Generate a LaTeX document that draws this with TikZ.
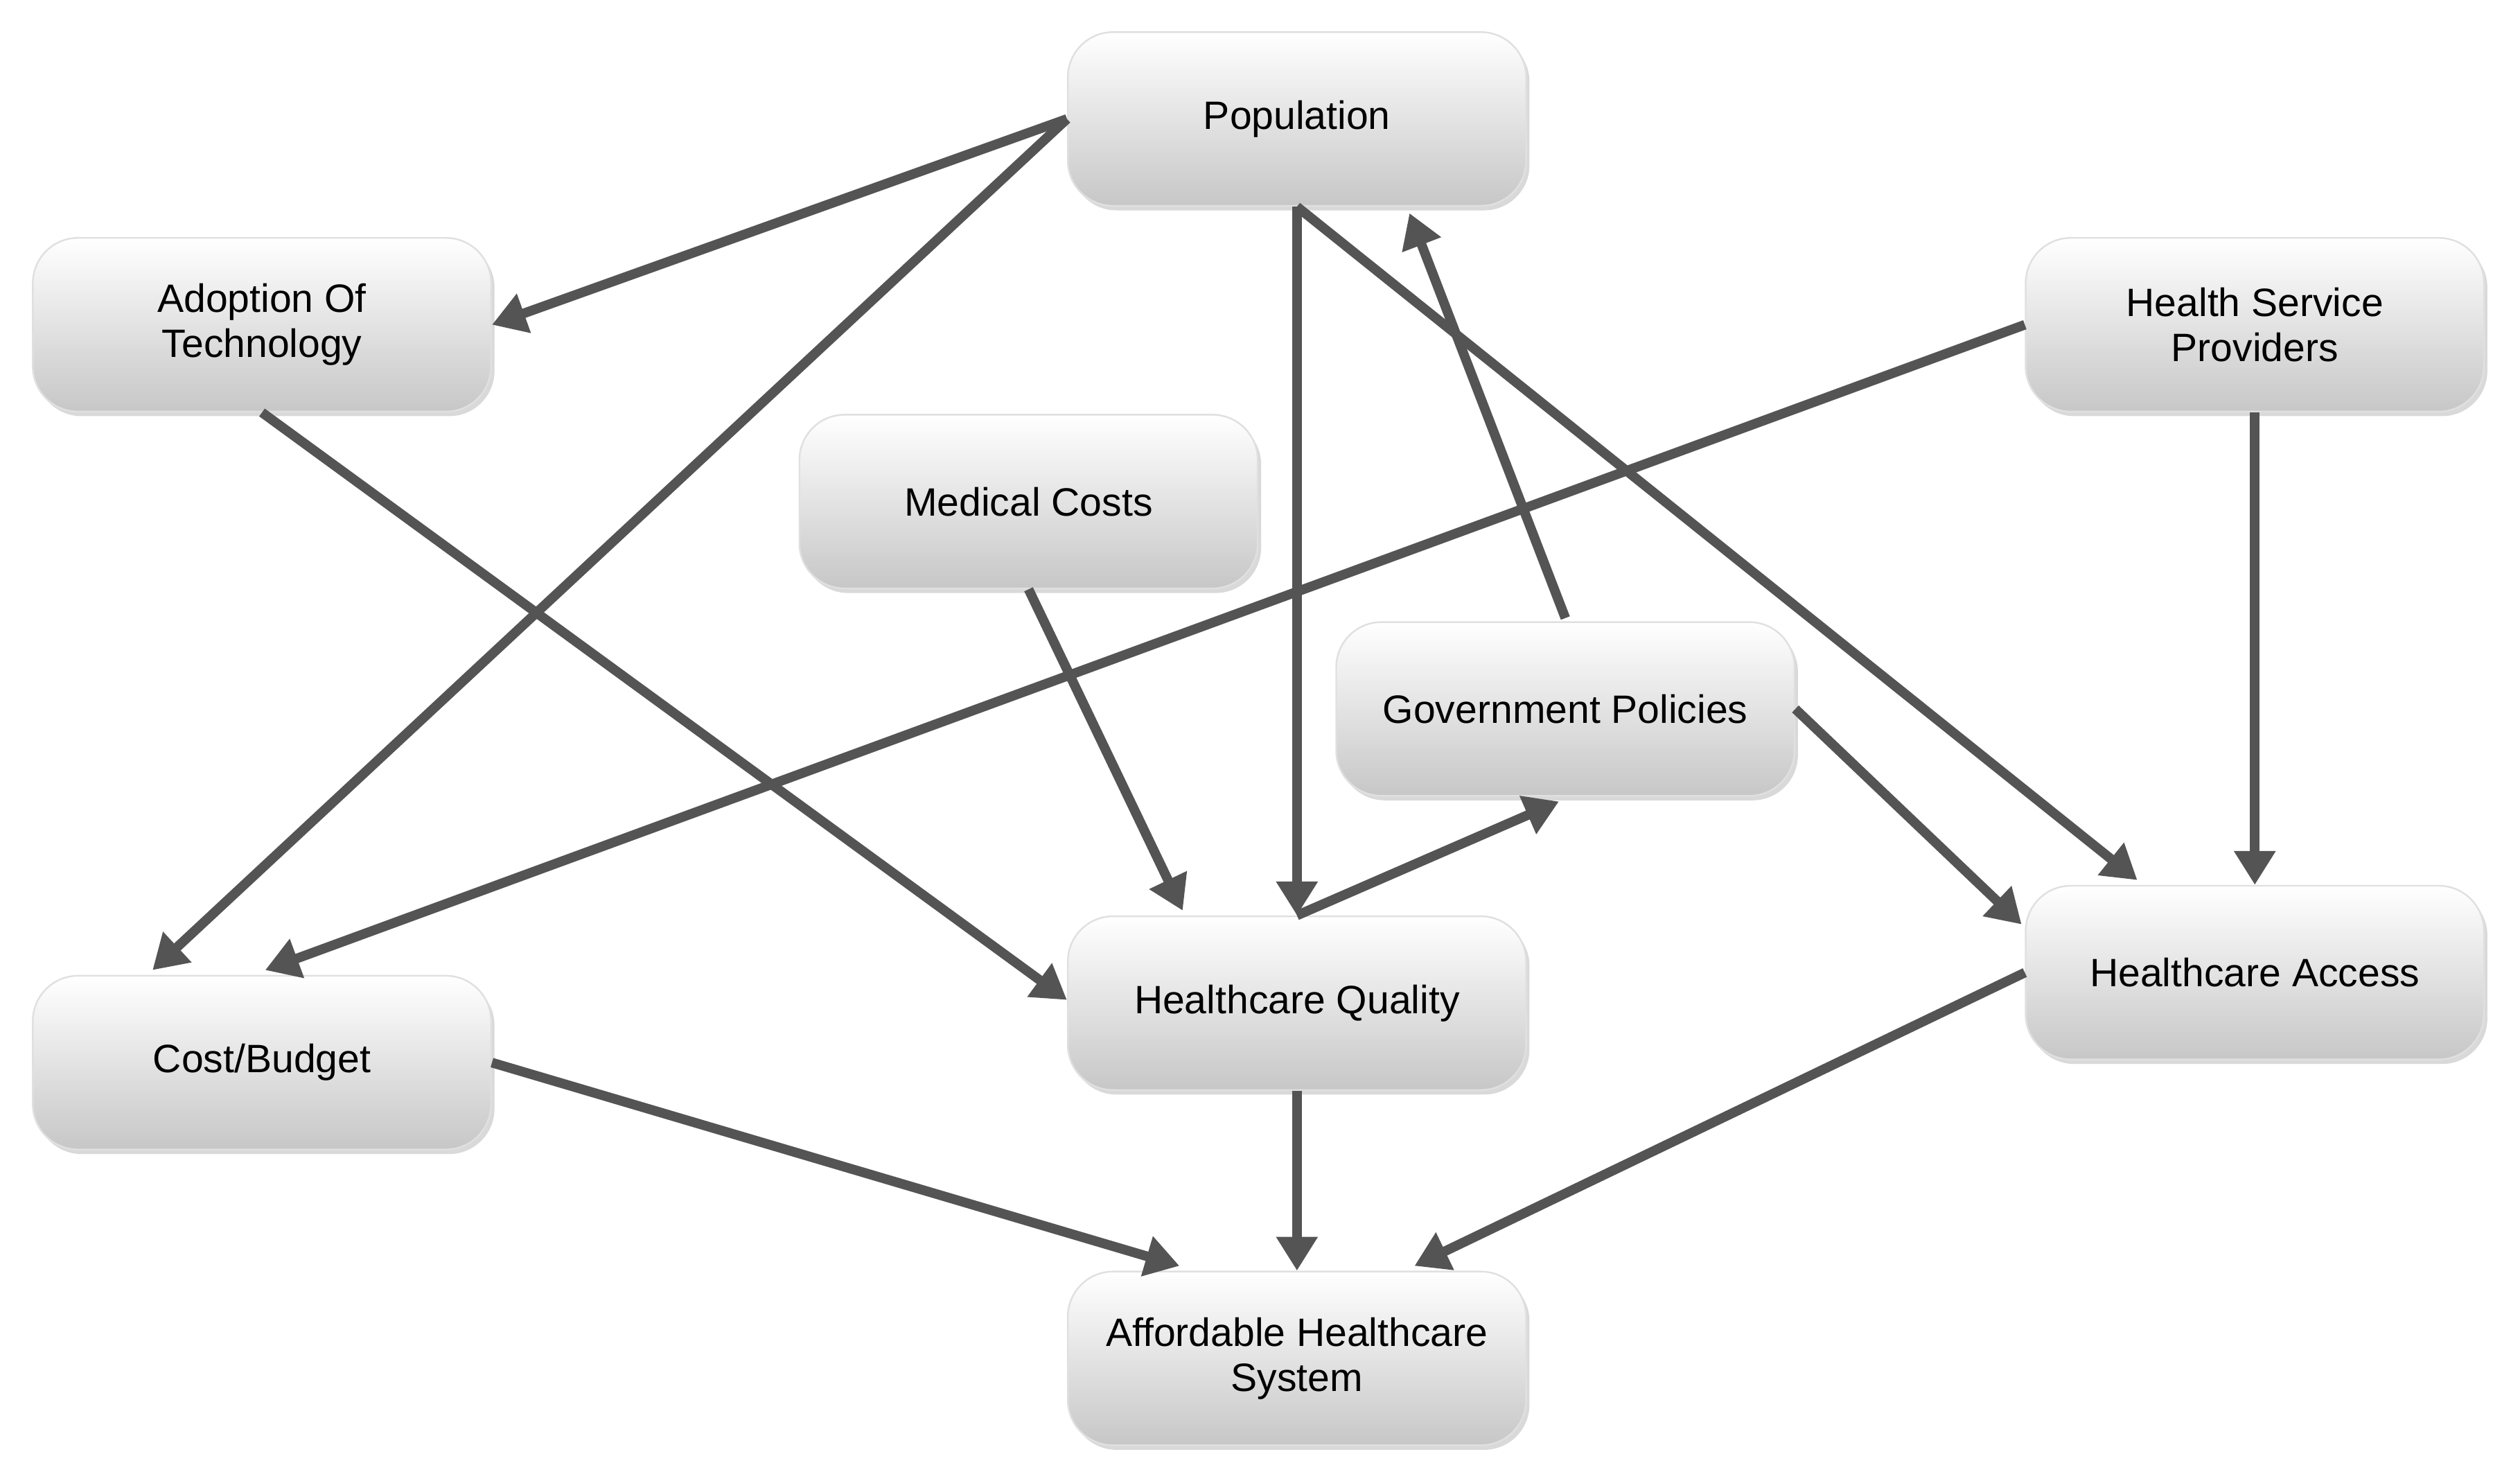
\documentclass[tikz,border=0pt]{standalone}
\usepackage{fontspec}
\setmainfont{Liberation Sans}
\usetikzlibrary{arrows.meta,shadows,calc}
\tikzset{
  box/.style={rectangle,rounded corners=8pt,minimum width=2.85cm,minimum height=1.08cm,
    top color=white,bottom color=black!22,draw=black!12,line width=0.3pt,
    drop shadow={shadow xshift=0.6pt,shadow yshift=-0.8pt,opacity=0.3},
    align=center,font=\fontsize{7}{8}\selectfont},
  link/.style={draw=black!67,line width=1.7pt,-{Triangle[length=6pt,width=7pt]}}
}
\begin{document}
\begin{tikzpicture}[x=0.01cm,y=-0.01cm]
\useasboundingbox (0,0) rectangle (1568,920);
% boxes
\node[box] (pop) at (807,74) {Population};
\node[box] (adopt) at (163,202) {Adoption Of\\Technology};
\node[box] (hsp) at (1403,202) {Health Service\\Providers};
\node[box] (med) at (640,312) {Medical Costs};
\node[box] (gov) at (974,441) {Government Policies};
\node[box] (access) at (1403,605) {Healthcare Access};
\node[box] (qual) at (807,624) {Healthcare Quality};
\node[box] (cost) at (163,661) {Cost/Budget};
\node[box] (afford) at (807,845) {Affordable Healthcare\\System};
% links
\draw[link] (pop.west) -- (adopt.east);
\draw[link] (pop.west) -- ($(cost.north west)+(75,-3)$);
\draw[link] (pop.south) -- (qual.north);
\draw[link] (pop.south) -- ($(access.north west)+(70,-3)$);
\draw[link] ($(gov.north)+(0,-2)$) -- ($(pop.south)+(70,4)$);
\draw[link] (adopt.south) -- ($(qual.west)+(0,-2)$);
\draw[link] (hsp.west) -- ($(cost.north)+(2,-3)$);
\draw[link] (hsp.south) -- (access.north);
\draw[link] (med.south) -- ($(qual.north west)+(72,-3)$);
\draw[link] (qual.north) -- ($(gov.south)+(-4,3)$);
\draw[link] (gov.east) -- ($(access.west)+(-2,-30)$);
\draw[link] (cost.east) -- ($(afford.north west)+(70,-3)$);
\draw[link] (qual.south) -- (afford.north);
\draw[link] (access.west) -- ($(afford.north east)+(-70,-3)$);
\end{tikzpicture}
\end{document}
